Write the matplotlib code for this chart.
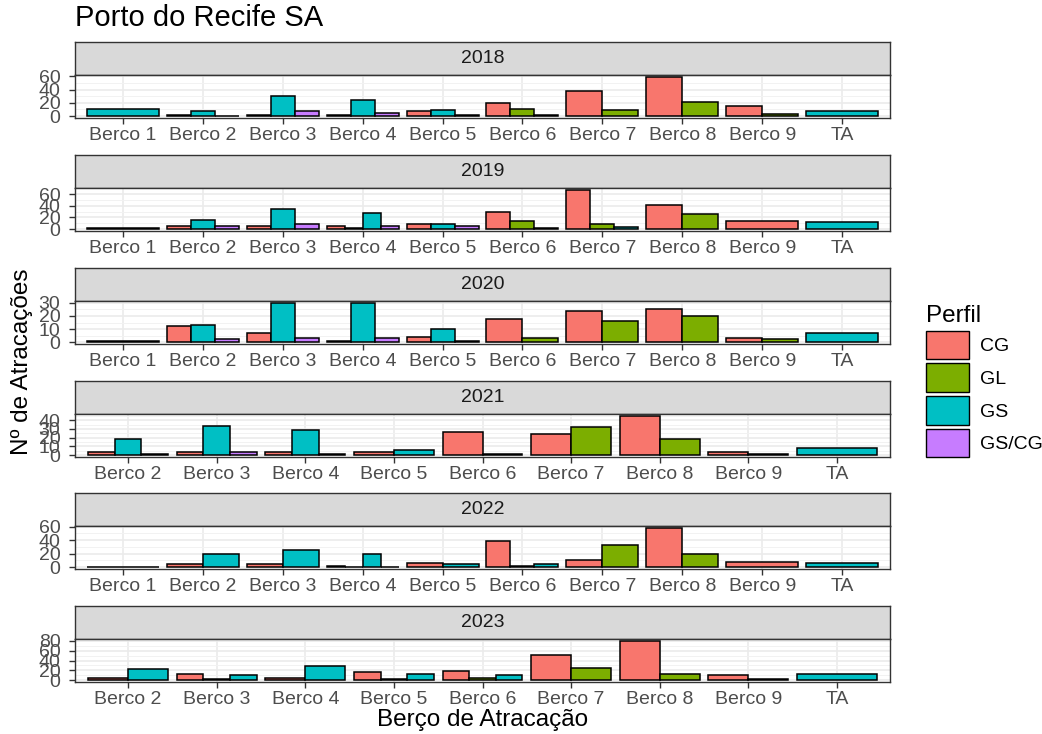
import matplotlib
matplotlib.use("Agg")
import matplotlib.pyplot as plt
from matplotlib.patches import Patch

plt.rcParams['font.family'] = ['Liberation Sans', 'DejaVu Sans']

# dados (numero de atracacoes por berco e perfil)
anos = ["2018", "2019", "2020", "2021", "2022", "2023"]
perfis = ["CG", "GL", "GS", "GS/CG"]
cores = ["#F8766D", "#7CAE00", "#00BFC4", "#C77CFF"]

bercos_a = ["Berco 1", "Berco 2", "Berco 3", "Berco 4", "Berco 5",
            "Berco 6", "Berco 7", "Berco 8", "Berco 9", "TA"]
bercos_b = ["Berco 2", "Berco 3", "Berco 4", "Berco 5",
            "Berco 6", "Berco 7", "Berco 8", "Berco 9", "TA"]

# None = perfil ausente naquele berco
cg_2018 = [None, 2, 1, 1, 7, 20, 38, 59, 15, None]
gl_2018 = [None, None, None, None, None, 11, 9, 21, 3, None]
gs_2018 = [11, 7, 30, 24, 9, 1, None, None, None, 7]
gscg_2018 = [None, 0, 7, 4, 2, None, None, None, None, None]

cg_2019 = [None, 5, 5, 5, 8, 30, 67, 42, 14, None]
gl_2019 = [None, None, None, 1, None, 14, 8, 25, None, None]
gs_2019 = [1, 15, 35, 28, 8, 2, 4, None, None, 12]
gscg_2019 = [None, 5, 8, 6, 6, None, None, None, None, None]

cg_2020 = [None, 12, 7, 1, 4, 18, 24, 25, 3, None]
gl_2020 = [None, None, None, None, None, 3, 16, 20, 2, None]
gs_2020 = [1, 13, 30, 30, 10, None, None, None, None, 7]
gscg_2020 = [None, 2, 3, 3, 1, None, None, None, None, None]

cg_2021 = [4, 3, 3, 3, 27, 24, 45, 4, None]
gl_2021 = [None, None, None, None, None, 32, 19, 1, None]
gs_2021 = [19, 34, 29, 6, 1, None, None, None, 8]
gscg_2021 = [1, 4, 1, None, None, None, None, None, None]

cg_2022 = [None, 4, 4, 2, 6, 39, 10, 58, 8, None]
gl_2022 = [None, None, None, 0, None, 2, 32, 19, None, None]
gs_2022 = [0, 19, 25, 20, 4, 4, None, None, None, 6]
gscg_2022 = [None, None, None, 0, None, None, None, None, None, None]

cg_2023 = [5, 13, 5, 16, 19, 51, 80, 10, None]
gl_2023 = [None, 2, None, 2, 5, 25, 13, 2, None]
gs_2023 = [23, 10, 28, 13, 10, None, None, None, 13]
gscg_2023 = [None] * 9

paineis = [
    (bercos_a, [cg_2018, gl_2018, gs_2018, gscg_2018], [0, 20, 40, 60]),
    (bercos_a, [cg_2019, gl_2019, gs_2019, gscg_2019], [0, 20, 40, 60]),
    (bercos_a, [cg_2020, gl_2020, gs_2020, gscg_2020], [0, 10, 20, 30]),
    (bercos_b, [cg_2021, gl_2021, gs_2021, gscg_2021], [0, 10, 20, 30, 40]),
    (bercos_a, [cg_2022, gl_2022, gs_2022, gscg_2022], [0, 20, 40, 60]),
    (bercos_b, [cg_2023, gl_2023, gs_2023, gscg_2023], [0, 20, 40, 60, 80]),
]

W, H = 1042, 734
fig = plt.figure(figsize=(W / 100, H / 100), dpi=100)


def caixa(esq, topo, dir, base):
    return [esq / W, 1 - base / H, (dir - esq) / W, (base - topo) / H]


borda = "#333333"
txt = "#4D4D4D"
esq, dir = 75, 890
topos_strip = [42, 155, 268, 381, 493, 606]

for k, (cats, series, ticks) in enumerate(paineis):
    t = topos_strip[k]
    # faixa com o ano
    sx = fig.add_axes(caixa(esq, t, dir, t + 33))
    sx.set_facecolor("#D9D9D9")
    sx.set_xticks([])
    sx.set_yticks([])
    for s in sx.spines.values():
        s.set_color(borda)
        s.set_linewidth(1.0)
    sx.text(0.5, 0.5, anos[k], ha="center", va="center", fontsize=14,
            color="#1A1A1A", transform=sx.transAxes)

    ax = fig.add_axes(caixa(esq, t + 33, dir, t + 76))
    n = len(cats)
    for i in range(n):
        presentes = [j for j in range(4) if series[j][i] is not None]
        w = 0.9 / len(presentes)
        for m, j in enumerate(presentes):
            x = i + 1 - 0.45 + w * (m + 0.5)
            ax.bar(x, series[j][i], width=w, color=cores[j],
                   edgecolor="black", linewidth=1.1, zorder=3)

    vmax = max(v for s in series for v in s if v is not None)
    ax.set_ylim(-0.05 * vmax, 1.05 * vmax)
    ax.set_xlim(0.4, n + 0.6)
    ax.set_xticks(range(1, n + 1))
    ax.set_xticklabels(cats)
    ax.set_yticks(ticks)
    minors = [(a + b) / 2 for a, b in zip(ticks[:-1], ticks[1:])]
    if ticks[-1] + (ticks[1] - ticks[0]) / 2 < 1.05 * vmax:
        minors.append(ticks[-1] + (ticks[1] - ticks[0]) / 2)
    ax.set_yticks(minors, minor=True)
    ax.grid(True, which="major", color="#EBEBEB", linewidth=1.2, zorder=0)
    ax.grid(True, which="minor", axis="y", color="#F2F2F2", linewidth=0.7, zorder=0)
    ax.set_axisbelow(True)
    ax.tick_params(axis="both", which="major", labelsize=14, colors=borda,
                   labelcolor=txt, length=4.5, width=1.0)
    ax.tick_params(axis="y", which="minor", length=0)
    ax.tick_params(axis="x", pad=2)
    ax.tick_params(axis="y", pad=6)
    for s in ax.spines.values():
        s.set_color(borda)
        s.set_linewidth(1.0)

fig.text(esq / W, 1 - 18 / H, "Porto do Recife SA", fontsize=21,
         ha="left", va="center", color="black")
fig.text((esq + dir) / 2 / W, 1 - 720 / H, "Berço de Atracação", fontsize=17.5,
         ha="center", va="center", color="black")
fig.text(22 / W, 1 - 362 / H, "Nº de Atracações", fontsize=17.5, rotation=90,
         ha="center", va="center", color="black")

handles = [Patch(facecolor=c, edgecolor="black", linewidth=1.0) for c in cores]
leg = fig.legend(handles, perfis, title="Perfil", loc="upper left",
                 bbox_to_anchor=(918 / W, 1 - 297 / H), frameon=False,
                 fontsize=14, title_fontsize=17.5, handlelength=2.2,
                 handleheight=1.9, labelspacing=0.2, handletextpad=0.6,
                 borderaxespad=0, alignment="left")

fig.savefig("out.png", dpi=100)
